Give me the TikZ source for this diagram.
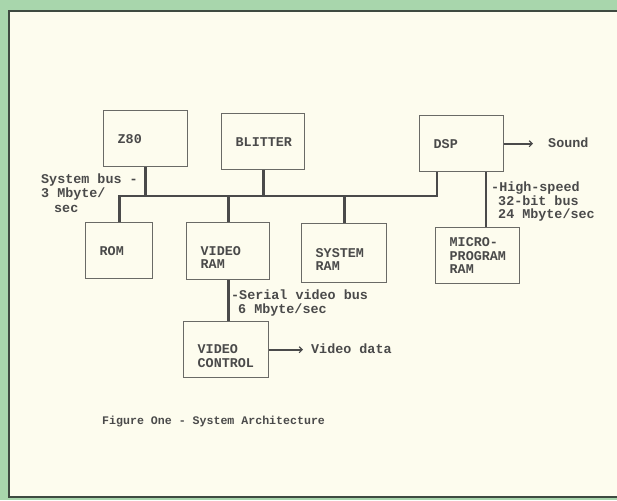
\documentclass[tikz,border=0pt]{standalone}
\usepackage{fontspec}
\setmonofont{Liberation Mono}
\usetikzlibrary{arrows.meta,calc}
\definecolor{bggreen}{HTML}{A8D6AC}
\definecolor{paper}{HTML}{FDFCEE}
\definecolor{ink}{HTML}{4A4A4A}
\definecolor{boxline}{HTML}{6A6A66}
\definecolor{frame}{HTML}{3E4A40}
\tikzset{
  lbl/.style={font=\ttfamily\bfseries\fontsize{13.4}{13.3}\selectfont, text=ink, inner sep=0pt, align=left},
  unit/.style={draw=boxline, line width=1.4pt, fill=paper, lbl, inner xsep=14pt, inner ysep=0pt, anchor=north west},
  bus/.style={draw=ink, line width=2.7pt},
  outarrow/.style={draw=ink, line width=1.6pt, -{Straight Barb[length=3pt,width=6pt,line width=1.2pt]}},
}
\begin{document}
\begin{tikzpicture}[x=1pt,y=-1pt]
\useasboundingbox (0,0) rectangle (617,500);
\fill[bggreen] (0,0) rectangle (617,500);
\fill[paper] (9,11) rectangle (620,497);
\draw[frame, line width=2.2pt] (620,11) -- (9,11) -- (9,497) -- (620,497);

% units
\node[unit, text width=56pt, minimum height=56pt] (z80) at (103,110) {Z80};
\node[unit, text width=55pt, minimum height=56pt] (blit) at (221,113) {BLITTER};
\node[unit, text width=56pt, minimum height=56pt] (dsp) at (419,115) {DSP};
\node[unit, text width=39pt, minimum height=56pt] (rom) at (85,222) {ROM};
\node[unit, text width=55pt, minimum height=57pt] (vram) at (186,222) {\rule{0pt}{22pt}VIDEO\\RAM};
\node[unit, text width=57pt, minimum height=59pt] (sram) at (301,223) {\rule{0pt}{22pt}SYSTEM\\RAM};
\node[unit, text width=57pt, minimum height=56pt] (vctl) at (183,321) {\rule{0pt}{22pt}VIDEO\\CONTROL};
\node[unit, text width=56pt, minimum height=56pt] (mpr) at (435,227) {MICRO-\\PROGRAM\\RAM};

% bus
\coordinate (busL) at (118,196);
\coordinate (busR) at (437,196);
\coordinate (hsx) at (486,0);
\draw[bus] (rom.north) -- (rom.north |- busL) -- (busR) -- (busR |- dsp.south);
\draw[bus] (z80.south) -- (z80.south |- busL);
\draw[bus] (blit.south) -- (blit.south |- busL);
\draw[bus] (vram.north) -- (vram.north |- busL);
\draw[bus] (sram.north) -- (sram.north |- busL);
\draw[bus] (vram.south) -- (vram.south |- vctl.north);
\draw[bus] (dsp.south -| hsx) -- (mpr.north -| hsx);

% outputs
\coordinate (sndend) at (533,0);
\coordinate (vidend) at (303,0);
\draw[outarrow] (dsp.east) -- (dsp.east -| sndend);
\node[lbl, anchor=west] (snd) at (548,143) {Sound};
\draw[outarrow] (vctl.east) -- (vctl.east -| vidend);
\node[lbl, anchor=west] (vid) at (311,349) {Video data};

% bus labels
\node[lbl, anchor=north west] (sysbus) at (41,174) {System bus -\\3 Mbyte/\\[2pt]\hspace*{13pt}sec};
\node[lbl, anchor=north west] (hsbus) at (491,182) {-High-speed\\\hspace*{7pt}32-bit bus\\\hspace*{7pt}24 Mbyte/sec};
\node[lbl, anchor=north west] (svbus) at (231,290) {-Serial video bus\\\hspace*{7pt}6 Mbyte/sec};

% caption
\node[lbl, font=\ttfamily\bfseries\fontsize{11.6}{13}\selectfont, anchor=west] (cap) at (102,422) {Figure One - System Architecture};
\end{tikzpicture}
\end{document}
